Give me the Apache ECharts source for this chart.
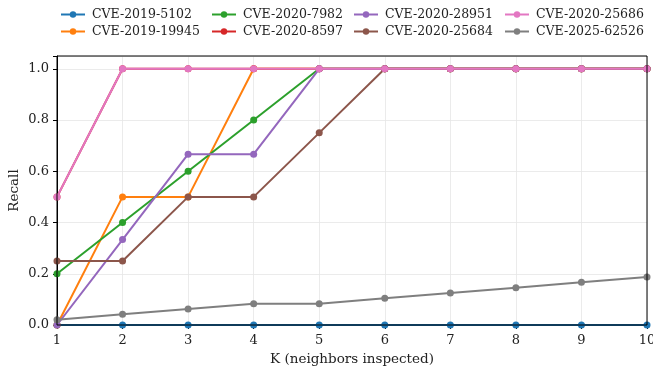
<!DOCTYPE html>
<html>
<head>
<meta charset="utf-8">
<script src="https://cdn.jsdelivr.net/npm/echarts@6/dist/echarts.min.js"></script>
<style>html,body{margin:0;padding:0;background:#fff}#c{width:653px;height:369px}</style>
</head>
<body>
<div id="c"></div>
<script>
const kValues = [1, 2, 3, 4, 5, 6, 7, 8, 9, 10];
const seriesNames = ['CVE-2019-5102', 'CVE-2019-19945', 'CVE-2020-7982', 'CVE-2020-8597',
  'CVE-2020-28951', 'CVE-2020-25684', 'CVE-2020-25686', 'CVE-2025-62526'];
const cve2019_5102 = [0, 0, 0, 0, 0, 0, 0, 0, 0, 0];
const cve2019_19945 = [0, 0.5, 0.5, 1, 1, 1, 1, 1, 1, 1];
const cve2020_7982 = [0.2, 0.4, 0.6, 0.8, 1, 1, 1, 1, 1, 1];
const cve2020_8597 = [0.5, 1, 1, 1, 1, 1, 1, 1, 1, 1];
const cve2020_28951 = [0, 0.3333, 0.6667, 0.6667, 1, 1, 1, 1, 1, 1];
const cve2020_25684 = [0.25, 0.25, 0.5, 0.5, 0.75, 1, 1, 1, 1, 1];
const cve2020_25686 = [0.5, 1, 1, 1, 1, 1, 1, 1, 1, 1];
const cve2025_62526 = [0.0208, 0.0417, 0.0625, 0.0833, 0.0833, 0.1042, 0.125, 0.1458, 0.1667, 0.1875];
const yTicks = ['0.0', '0.2', '0.4', '0.6', '0.8', '1.0'];
const colors = ['#1f77b4', '#ff7f0e', '#2ca02c', '#d62728', '#9467bd', '#8c564b', '#e377c2', '#7f7f7f'];
const allData = [cve2019_5102, cve2019_19945, cve2020_7982, cve2020_8597, cve2020_28951, cve2020_25684, cve2020_25686, cve2025_62526];

const FONT = 'DejaVu Serif';
const series = seriesNames.map((n, i) => ({
  name: n,
  type: 'line',
  data: kValues.map((k, j) => [k, allData[i][j]]),
  color: colors[i],
  symbol: 'circle',
  symbolSize: 7,
  lineStyle: { width: 2 },
  itemStyle: { color: colors[i] },
  z: 2 + i,
  clip: true,
  animation: false
}));

const legendCols = [[0, 1], [2, 3], [4, 5], [6, 7]];
const legendLeft = [55, 206, 348, 499];
const legends = legendCols.map((c, i) => ({
  orient: 'vertical',
  left: legendLeft[i],
  top: 3,
  itemGap: 4,
  itemWidth: 24,
  itemHeight: 8,
  data: c.map(idx => seriesNames[idx]),
  textStyle: { fontFamily: FONT, fontSize: 12.5, color: '#222', padding: [0, 0, 0, 2] }
}));

const chart = echarts.init(document.getElementById('c'), null, { renderer: 'canvas' });
chart.setOption({
  backgroundColor: '#fff',
  animation: false,
  color: colors,
  legend: legends,
  grid: { left: 57, right: 6, top: 56, bottom: 44, containLabel: false, outerBoundsMode: 'none',
    show: true, borderColor: '#000', borderWidth: 1, backgroundColor: 'transparent', z: 10 },
  xAxis: {
    type: 'value', min: 1, max: 10, interval: 1,
    name: 'K (neighbors inspected)', nameLocation: 'middle', nameGap: 27, nameMoveOverlap: false,
    nameTextStyle: { fontFamily: FONT, fontSize: 13.5, color: '#222' },
    axisLine: { show: true, onZero: false, lineStyle: { color: '#000', width: 1 } },
    axisTick: { show: true, length: 4, lineStyle: { color: '#000' } },
    axisLabel: { fontFamily: FONT, fontSize: 13, color: '#222', margin: 9 },
    splitLine: { show: true, lineStyle: { color: '#e6e6e6', width: 0.8 } }
  },
  yAxis: {
    type: 'value', min: 0, max: 1.05, interval: 0.2,
    name: 'Recall', nameLocation: 'middle', nameGap: 36, nameRotate: 90, nameMoveOverlap: false,
    nameTextStyle: { fontFamily: FONT, fontSize: 13.5, color: '#222' },
    axisLine: { show: true, lineStyle: { color: '#000', width: 1 } },
    axisTick: { show: true, length: 4, lineStyle: { color: '#000' } },
    axisLabel: { fontFamily: FONT, fontSize: 13, color: '#222', margin: 8,
      formatter: v => { const s = v.toFixed(1); return yTicks.includes(s) && Math.abs(v - Math.round(v * 5) / 5) < 1e-9 ? s : ''; } },
    splitLine: { show: true, lineStyle: { color: '#e6e6e6', width: 0.8 } }
  },
  series: series
});
</script>
</body>
</html>
